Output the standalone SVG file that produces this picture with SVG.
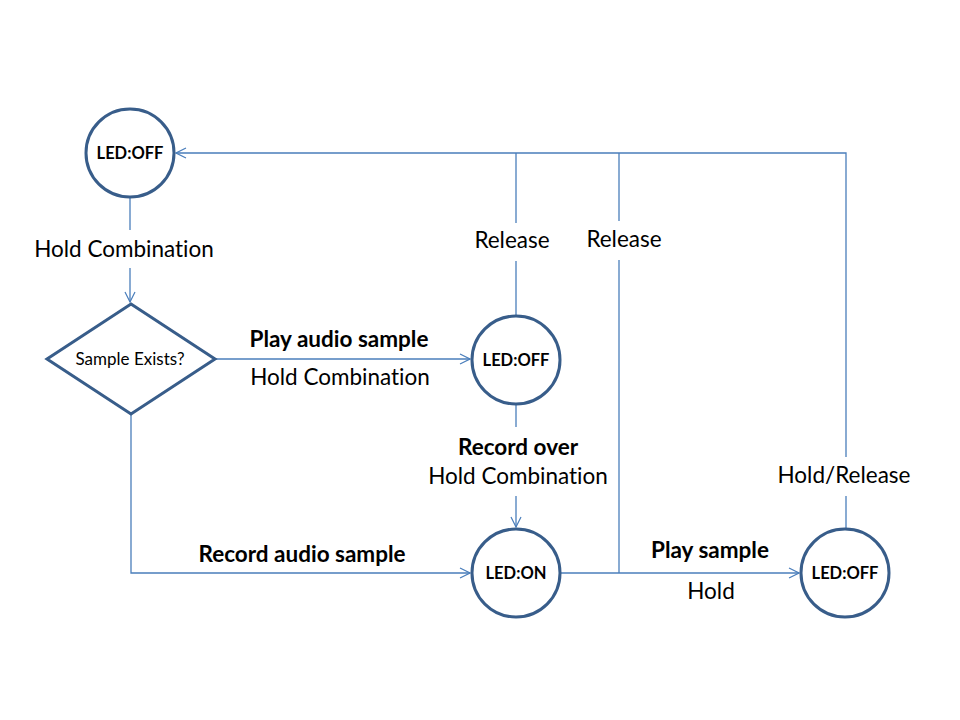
<svg xmlns="http://www.w3.org/2000/svg" width="960" height="720" viewBox="0 0 960 720">
<style>
.node{fill:#fff;stroke:#385D8A;stroke-width:3}
.c{fill:none;stroke:#4A7EBB;stroke-width:1.3}
text{font-family:Lato,"Open Sans",sans-serif;fill:#000;text-anchor:middle;font-variant-ligatures:none}
.t{font-size:22.5px}
.b{font-weight:bold}
.n{font-size:16.5px;font-weight:bold}
.s{font-size:17px}
</style>
<defs>
<marker id="a" markerWidth="12" markerHeight="12" refX="11" refY="6" orient="auto" markerUnits="userSpaceOnUse">
<path d="M1,1 L11,6 L1,11" fill="none" stroke="#4A7EBB" stroke-width="1.2"/>
</marker>
</defs>
<rect width="960" height="720" fill="#fff"/>
<g id="connectors">
<path class="c" d="M846,528 V496"/>
<path class="c" d="M846,457 V153 H176" marker-end="url(#a)"/>
<path class="c" d="M516,315 V261"/>
<path class="c" d="M516,223 V153"/>
<path class="c" d="M619,153 V221"/>
<path class="c" d="M619,260 V573"/>
<path class="c" d="M130,198 V230"/>
<path class="c" d="M130,268 V302" marker-end="url(#a)"/>
<path class="c" d="M215,359 H470" marker-end="url(#a)"/>
<path class="c" d="M516,405 V427"/>
<path class="c" d="M516,496 V527" marker-end="url(#a)"/>
<path class="c" d="M131,415 V573 H470" marker-end="url(#a)"/>
<path class="c" d="M561,573 H799" marker-end="url(#a)"/>
</g>
<g id="labels">
<text class="t" x="124" y="257">Hold Combination</text>
<text class="t b" x="339" y="347">Play audio sample</text>
<text class="t" x="340" y="385">Hold Combination</text>
<text class="t" x="512" y="248">Release</text>
<text class="t" x="624" y="247">Release</text>
<text class="t b" x="518" y="455">Record over</text>
<text class="t" x="518" y="484">Hold Combination</text>
<text class="t b" x="302" y="562">Record audio sample</text>
<text class="t b" x="710" y="558">Play sample</text>
<text class="t" x="711" y="599">Hold</text>
<text class="t" x="844" y="483">Hold/Release</text>
</g>
<g id="n1"><circle class="node" cx="130" cy="153" r="44"/><text class="n" x="130" y="159">LED:OFF</text></g>
<g id="n2"><path class="node" d="M131,304 L215,359 L131,414 L47,359 Z"/><text class="s" x="130" y="365">Sample Exists?</text></g>
<g id="n3"><circle class="node" cx="516" cy="360" r="44"/><text class="n" x="516" y="366">LED:OFF</text></g>
<g id="n4"><circle class="node" cx="516" cy="573" r="44"/><text class="n" x="516" y="579">LED:ON</text></g>
<g id="n5"><circle class="node" cx="845" cy="573" r="44"/><text class="n" x="845" y="579">LED:OFF</text></g>
</svg>
